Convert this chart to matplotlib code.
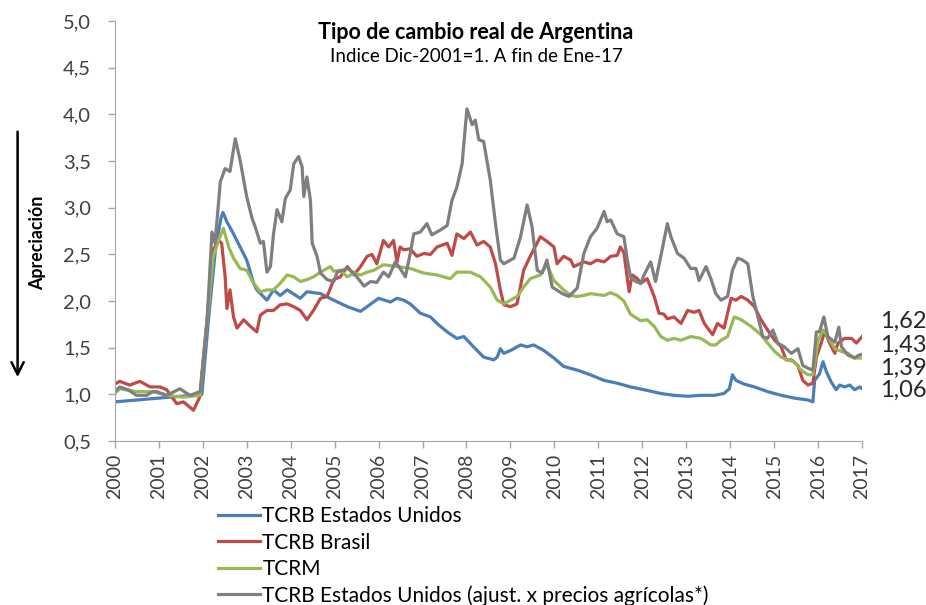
import matplotlib
matplotlib.use("Agg")
import matplotlib.pyplot as plt

plt.rcParams["font.family"] = ["Lato", "DejaVu Sans"]

# decimal year / index value
usa_t = [2000.0, 2000.5, 2001.0, 2001.5, 2001.98, 2002.15, 2002.3, 2002.42, 2002.46,
         2002.55, 2002.7, 2002.85, 2003.0, 2003.16, 2003.23, 2003.46, 2003.61, 2003.76,
         2003.92, 2004.22, 2004.37, 2004.68, 2004.98, 2005.29, 2005.59, 2005.74,
         2006.0, 2006.27, 2006.42, 2006.57, 2006.72, 2006.95, 2007.18, 2007.33, 2007.56,
         2007.78, 2007.94, 2008.16, 2008.39, 2008.62, 2008.7, 2008.77, 2008.85, 2009.0,
         2009.23, 2009.38, 2009.53, 2009.76, 2009.99, 2010.21, 2010.52, 2010.82, 2011.13,
         2011.43, 2011.73, 2012.04, 2012.42, 2012.72, 2013.03, 2013.33, 2013.64, 2013.86,
         2013.98, 2014.05, 2014.13, 2014.32, 2014.55, 2014.85, 2015.16, 2015.46, 2015.77,
         2015.88, 2015.92, 2016.03, 2016.11, 2016.19, 2016.3, 2016.41, 2016.49, 2016.6,
         2016.72, 2016.83, 2016.95, 2017.0]
usa_v = [0.92, 0.94, 0.96, 0.98, 1.0, 1.9, 2.6, 2.9, 2.95,
         2.85, 2.72, 2.58, 2.44, 2.19, 2.12, 2.01, 2.12, 2.06,
         2.12, 2.03, 2.1, 2.08, 2.01, 1.94, 1.89, 1.94,
         2.03, 1.99, 2.03, 2.01, 1.97, 1.87, 1.83, 1.76, 1.67,
         1.6, 1.62, 1.51, 1.4, 1.37, 1.4, 1.49, 1.44, 1.47,
         1.53, 1.51, 1.53, 1.47, 1.39, 1.3, 1.26, 1.21, 1.15,
         1.12, 1.08, 1.05, 1.01, 0.99, 0.98, 0.99, 0.99, 1.01,
         1.06, 1.21, 1.15, 1.11, 1.08, 1.03, 0.99, 0.96, 0.94,
         0.92, 1.15, 1.22, 1.35, 1.24, 1.13, 1.05, 1.1, 1.08,
         1.1, 1.05, 1.08, 1.06]

bra_t = [2000.0, 2000.11, 2000.34, 2000.57, 2000.8, 2001.03, 2001.18, 2001.41, 2001.56,
         2001.79, 2001.94, 2002.24, 2002.36, 2002.43, 2002.51, 2002.55, 2002.62, 2002.7,
         2002.78, 2002.93, 2003.08, 2003.23, 2003.31, 2003.46, 2003.61, 2003.76, 2003.92,
         2004.07, 2004.22, 2004.37, 2004.52, 2004.68, 2004.83, 2004.98, 2005.13, 2005.29,
         2005.44, 2005.59, 2005.74, 2005.85, 2005.96, 2006.11, 2006.23, 2006.34, 2006.42,
         2006.49, 2006.57, 2006.72, 2006.87, 2007.03, 2007.18, 2007.33, 2007.56, 2007.67,
         2007.78, 2007.94, 2008.09, 2008.24, 2008.39, 2008.54, 2008.66, 2008.77, 2008.85,
         2009.0, 2009.15, 2009.3, 2009.45, 2009.68, 2009.83, 2009.99, 2010.06, 2010.21,
         2010.37, 2010.44, 2010.67, 2010.82, 2010.97, 2011.13, 2011.28, 2011.43, 2011.5,
         2011.58, 2011.7, 2011.77, 2011.89, 2011.96, 2012.11, 2012.27, 2012.38, 2012.49,
         2012.57, 2012.72, 2012.88, 2013.03, 2013.18, 2013.29, 2013.41, 2013.52, 2013.6,
         2013.71, 2013.86, 2014.02, 2014.13, 2014.25, 2014.4, 2014.55, 2014.7, 2014.85,
         2015.01, 2015.16, 2015.27, 2015.39, 2015.54, 2015.65, 2015.77, 2015.88, 2015.96,
         2016.07, 2016.15, 2016.26, 2016.38, 2016.45, 2016.6, 2016.76, 2016.87, 2017.0]
bra_v = [1.11, 1.14, 1.1, 1.14, 1.08, 1.08, 1.05, 0.9, 0.92,
         0.83, 0.98, 2.55, 2.65, 2.62, 2.26, 1.92, 2.12, 1.83,
         1.71, 1.8, 1.73, 1.67, 1.85, 1.9, 1.9, 1.96, 1.97,
         1.94, 1.9, 1.8, 1.9, 2.03, 2.05, 2.23, 2.26, 2.37,
         2.28, 2.37, 2.48, 2.5, 2.4, 2.65, 2.58, 2.65, 2.42,
         2.58, 2.55, 2.56, 2.48, 2.51, 2.5, 2.58, 2.62, 2.49,
         2.72, 2.67, 2.74, 2.6, 2.64, 2.58, 2.4, 2.12, 1.96,
         1.94, 1.97, 2.33, 2.48, 2.69, 2.64, 2.58, 2.4, 2.48,
         2.44, 2.37, 2.42, 2.4, 2.44, 2.42, 2.48, 2.49, 2.58,
         2.52, 2.1, 2.28, 2.24, 2.19, 2.24, 2.05, 1.87, 1.86,
         1.81, 1.83, 1.76, 1.9, 1.88, 1.9, 1.76, 1.69, 1.64,
         1.76, 1.71, 2.03, 2.01, 2.05, 2.01, 1.94, 1.8, 1.69,
         1.58, 1.51, 1.37, 1.37, 1.31, 1.15, 1.1, 1.12, 1.4,
         1.55, 1.68, 1.55, 1.44, 1.55, 1.6, 1.6, 1.55, 1.62]

tcrm_t = [2000.0, 2000.11, 2000.49, 2000.87, 2001.18, 2001.56, 2001.94, 2002.24, 2002.36,
          2002.47, 2002.59, 2002.7, 2002.85, 2003.0, 2003.16, 2003.31, 2003.46, 2003.61,
          2003.76, 2003.92, 2004.07, 2004.22, 2004.37, 2004.52, 2004.68, 2004.9, 2004.98,
          2005.13, 2005.29, 2005.44, 2005.59, 2005.74, 2005.89, 2006.11, 2006.42, 2006.72,
          2007.03, 2007.33, 2007.63, 2007.78, 2008.09, 2008.32, 2008.54, 2008.7, 2008.85,
          2009.0, 2009.15, 2009.3, 2009.45, 2009.68, 2009.83, 2009.99, 2010.21, 2010.37,
          2010.52, 2010.67, 2010.82, 2011.13, 2011.28, 2011.43, 2011.58, 2011.73, 2011.96,
          2012.11, 2012.27, 2012.42, 2012.57, 2012.72, 2012.88, 2013.1, 2013.33, 2013.56,
          2013.67, 2013.79, 2013.94, 2014.09, 2014.25, 2014.47, 2014.7, 2014.85, 2015.01,
          2015.16, 2015.31, 2015.46, 2015.61, 2015.77, 2015.88, 2016.0, 2016.11, 2016.22,
          2016.38, 2016.53, 2016.68, 2016.83, 2017.0]
tcrm_v = [1.01, 1.06, 1.03, 1.03, 0.99, 0.97, 0.99, 2.48, 2.65,
          2.78, 2.58, 2.46, 2.35, 2.33, 2.19, 2.1, 2.12, 2.12,
          2.19, 2.28, 2.26, 2.21, 2.23, 2.26, 2.31, 2.37, 2.32,
          2.33, 2.26, 2.3, 2.28, 2.31, 2.33, 2.39, 2.37, 2.35,
          2.3, 2.28, 2.24, 2.31, 2.31, 2.26, 2.15, 2.01, 1.97,
          2.01, 2.05, 2.15, 2.24, 2.28, 2.39, 2.22, 2.12, 2.06,
          2.05, 2.06, 2.08, 2.06, 2.09, 2.06, 2.0, 1.86, 1.79,
          1.8, 1.73, 1.62, 1.58, 1.6, 1.58, 1.62, 1.6, 1.53,
          1.53, 1.58, 1.62, 1.83, 1.8, 1.73, 1.64, 1.55, 1.46,
          1.4, 1.37, 1.35, 1.26, 1.21, 1.21, 1.58, 1.69, 1.62,
          1.49, 1.46, 1.44, 1.39, 1.39]

agro_t = [2000.0, 2000.11, 2000.3, 2000.49, 2000.72, 2000.87, 2000.95, 2001.18, 2001.48,
          2001.71, 2001.94, 2002.1, 2002.21, 2002.28, 2002.4, 2002.51, 2002.62, 2002.74,
          2002.85, 2003.0, 2003.12, 2003.19, 2003.31, 2003.38, 2003.46, 2003.54, 2003.61,
          2003.69, 2003.8, 2003.88, 2003.99, 2004.07, 2004.18, 2004.26, 2004.3, 2004.37,
          2004.45, 2004.49, 2004.6, 2004.68, 2004.83, 2004.98, 2005.06, 2005.29, 2005.44,
          2005.67, 2005.82, 2005.96, 2006.11, 2006.23, 2006.38, 2006.49, 2006.61, 2006.72,
          2006.8, 2006.95, 2007.1, 2007.21, 2007.4, 2007.56, 2007.67, 2007.78, 2007.9,
          2008.01, 2008.13, 2008.2, 2008.28, 2008.39, 2008.54, 2008.66, 2008.77, 2008.85,
          2009.08, 2009.23, 2009.38, 2009.49, 2009.61, 2009.72, 2009.83, 2009.95, 2010.18,
          2010.33, 2010.52, 2010.67, 2010.82, 2010.97, 2011.13, 2011.2, 2011.28, 2011.43,
          2011.58, 2011.66, 2011.73, 2011.85, 2011.96, 2012.04, 2012.19, 2012.3, 2012.42,
          2012.57, 2012.65, 2012.8, 2012.95, 2013.1, 2013.22, 2013.29, 2013.45, 2013.56,
          2013.67, 2013.79, 2013.94, 2014.05, 2014.17, 2014.28, 2014.4, 2014.51, 2014.63,
          2014.74, 2014.85, 2014.97, 2015.08, 2015.23, 2015.39, 2015.54, 2015.65, 2015.77,
          2015.88, 2015.96, 2016.03, 2016.13, 2016.22, 2016.38, 2016.47, 2016.53, 2016.68,
          2016.83, 2016.92, 2017.0]
agro_v = [1.03, 1.08, 1.05, 0.99, 0.99, 1.03, 1.03, 0.99, 1.06,
          0.99, 1.03, 1.8, 2.74, 2.62, 3.28, 3.42, 3.39, 3.74,
          3.51, 3.12, 2.89, 2.8, 2.62, 2.64, 2.31, 2.37, 2.72,
          2.98, 2.85, 3.1, 3.19, 3.47, 3.55, 3.44, 3.12, 3.33,
          3.08, 2.62, 2.48, 2.3, 2.23, 2.21, 2.31, 2.35, 2.3,
          2.16, 2.21, 2.2, 2.31, 2.26, 2.42, 2.35, 2.26, 2.51,
          2.72, 2.74, 2.83, 2.71, 2.76, 2.81, 3.08, 3.22, 3.47,
          4.06, 3.89, 3.94, 3.73, 3.71, 3.3, 2.83, 2.44, 2.4,
          2.46, 2.69, 3.03, 2.8, 2.33, 2.3, 2.44, 2.15, 2.08,
          2.05, 2.14, 2.51, 2.69, 2.78, 2.96, 2.85, 2.87, 2.72,
          2.69, 2.44, 2.26, 2.21, 2.19, 2.28, 2.42, 2.21, 2.48,
          2.83, 2.69, 2.51, 2.46, 2.35, 2.35, 2.22, 2.37, 2.24,
          2.08, 2.01, 2.05, 2.33, 2.46, 2.44, 2.4, 2.06, 1.83,
          1.62, 1.6, 1.69, 1.55, 1.51, 1.44, 1.49, 1.31, 1.28,
          1.26, 1.67, 1.67, 1.83, 1.62, 1.56, 1.72, 1.51, 1.42,
          1.39, 1.42, 1.43]

series_labels = ["TCRB Estados Unidos", "TCRB Brasil", "TCRM",
                 "TCRB Estados Unidos (ajust. x precios agrícolas*)"]
series_colors = ["#4a7ebb", "#be4b48", "#98b954", "#7f7f7f"]
end_labels = ["1,62", "1,43", "1,39", "1,06"]
end_label_y = [1.78, 1.53, 1.28, 1.04]

years = list(range(2000, 2018))
y_ticks = [0.5, 1.0, 1.5, 2.0, 2.5, 3.0, 3.5, 4.0, 4.5, 5.0]

fig = plt.figure(figsize=(9.26, 6.05), dpi=100)
ax = fig.add_axes([0.124, 0.271, 0.807, 0.694])

for t, v, lab, col in zip([usa_t, bra_t, tcrm_t, agro_t],
                          [usa_v, bra_v, tcrm_v, agro_v],
                          series_labels, series_colors):
    ax.plot(t, v, color=col, lw=2.3, label=lab, solid_joinstyle="round")

ax.set_xlim(2000, 2017)
ax.set_ylim(0.5, 5.0)
ax.set_xticks(years)
ax.set_xticklabels([str(y) for y in years], rotation=90, fontsize=14, color="#404040")
ax.set_yticks(y_ticks)
ax.set_yticklabels([f"{y:.1f}".replace(".", ",") for y in y_ticks], fontsize=14.5,
                   color="#404040")
for s in ["top", "right"]:
    ax.spines[s].set_visible(False)
for s in ["left", "bottom"]:
    ax.spines[s].set_color("#a6a6a6")
ax.tick_params(axis="both", direction="out", length=5, color="#a6a6a6", width=1)
ax.tick_params(axis="y", pad=12)
ax.tick_params(axis="x", pad=4)

for txt, y in zip(end_labels, end_label_y):
    ax.text(2017.4, y, txt, fontsize=17, color="#262626", va="center", clip_on=False)

fig.text(0.514, 0.947, "Tipo de cambio real de Argentina", ha="center", va="center",
         fontsize=15.5, fontweight="bold")
fig.text(0.514, 0.906, "Indice Dic-2001=1. A fin de Ene-17", ha="center", va="center",
         fontsize=13.5)

fig.text(0.041, 0.598, "Apreciación", rotation=90, ha="center", va="center",
         fontsize=12.8, fontweight="bold")
ax.annotate("", xy=(0.019, 0.372), xytext=(0.019, 0.787), xycoords="figure fraction",
            textcoords="figure fraction", annotation_clip=False,
            arrowprops=dict(arrowstyle="->", color="black", lw=1.8,
                            mutation_scale=22))

fig.legend(loc="upper left", bbox_to_anchor=(0.235, 0.163), frameon=False, fontsize=15,
           handlelength=2.05, handletextpad=0.1, labelspacing=0.3, borderpad=0,
           borderaxespad=0)

fig.savefig("out.png", dpi=100)
